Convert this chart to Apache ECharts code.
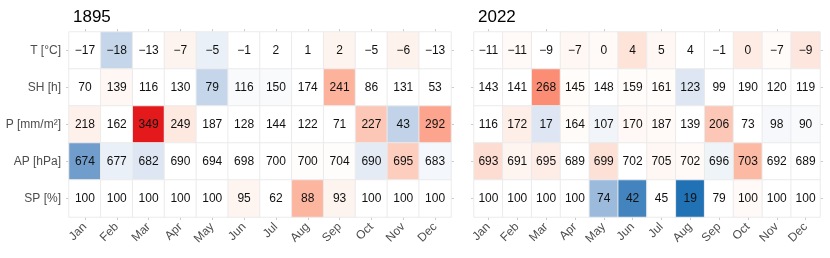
<!DOCTYPE html>
<html><head><meta charset="utf-8">
<script src="https://cdn.jsdelivr.net/npm/echarts@6/dist/echarts.min.js"></script>
<style>html,body{margin:0;padding:0;background:#fff}#c{width:830px;height:258px}</style>
</head><body><div id="c"></div>
<script>
const months = ['Jan','Feb','Mar','Apr','May','Jun','Jul','Aug','Sep','Oct','Nov','Dec'];
const variables = ['T [°C]','SH [h]','P [mm/m²]','AP [hPa]','SP [%]'];
const titles = ['1895','2022'];

// values 1895
const t1895  = [-17,-18,-13,-7,-5,-1,2,1,2,-5,-6,-13];
const sh1895 = [70,139,116,130,79,116,150,174,241,86,131,53];
const p1895  = [218,162,349,249,187,128,144,122,71,227,43,292];
const ap1895 = [674,677,682,690,694,698,700,700,704,690,695,683];
const sp1895 = [100,100,100,100,100,95,62,88,93,100,100,100];
// values 2022
const t2022  = [-11,-11,-9,-7,0,4,5,4,-1,0,-7,-9];
const sh2022 = [143,141,268,145,148,159,161,123,99,190,120,119];
const p2022  = [116,172,17,164,107,170,187,139,206,73,98,90];
const ap2022 = [693,691,695,689,699,702,705,702,696,703,692,689];
const sp2022 = [100,100,100,100,74,42,45,19,79,100,100,100];

// cell shading (anomaly, -1 blue .. +1 red)
const tShade1895  = [0,-0.25,0,0.1,-0.09,0,0,0,0.1,0,0.12,0];
const shShade1895 = [0,0.07,0,0,-0.25,-0.03,-0.03,0,0.52,0,0,0];
const pShade1895  = [0.13,0,1,0.2,0,0,0,0,0,0.4,-0.27,0.6];
const apShade1895 = [-0.65,-0.09,-0.15,0,0,0,0,0.02,0.02,-0.12,0.37,-0.05];
const spShade1895 = [0,0,0,0,0,0.09,0,0.5,0.1,0,0,0];
const tShade2022  = [0,0.05,0,0.07,0.05,0.25,0.07,0,0,0.17,0.04,0.22];
const shShade2022 = [0,0,0.73,0.03,0,0.03,0.03,-0.15,0,0,0,0];
const pShade2022  = [0,0.15,-0.15,0.04,-0.06,0.06,0.05,0,0.4,0,-0.04,-0.03];
const apShade2022 = [0.28,0.09,0.16,0,0.26,0,0.07,0.05,-0.07,0.48,0,0];
const spShade2022 = [0,0,0,0,-0.45,-0.85,0,-1,0,0.05,0,0];

const panels = [
  {vals:[t1895,sh1895,p1895,ap1895,sp1895], shade:[tShade1895,shShade1895,pShade1895,apShade1895,spShade1895]},
  {vals:[t2022,sh2022,p2022,ap2022,sp2022], shade:[tShade2022,shShade2022,pShade2022,apShade2022,spShade2022]}
];

function build(p){
  const d=[];
  p.vals.forEach((row,r)=>row.forEach((v,c)=>d.push([c,r,v,p.shade[r][c]])));
  return d;
}
const font='Liberation Sans';
const grids=[{left:69,top:32,width:382,height:185},{left:474,top:32,width:346,height:185}];
const tick={show:true,alignWithLabel:true,length:3,lineStyle:{color:'#cccccc'}};
const xAxes=[],yAxes=[],series=[],titleOpts=[];
grids.forEach((g,i)=>{
  xAxes.push({type:'category',gridIndex:i,data:months,position:'bottom',axisLine:{show:false},axisTick:tick,
    axisLabel:{rotate:45,color:'#4d4d4d',fontSize:12,margin:8,fontFamily:font},splitLine:{show:false}});
  xAxes.push({type:'category',gridIndex:i,data:months,position:'top',axisLine:{show:false},axisTick:tick,
    axisLabel:{show:false},splitLine:{show:false}});
  yAxes.push({type:'category',gridIndex:i,data:variables,inverse:true,position:'left',axisLine:{show:false},axisTick:tick,
    axisLabel:{show:i===0,color:'#4d4d4d',fontSize:12,margin:8,fontFamily:font},splitLine:{show:false}});
  yAxes.push({type:'category',gridIndex:i,data:variables,inverse:true,position:'right',axisLine:{show:false},axisTick:tick,
    axisLabel:{show:false},splitLine:{show:false}});
  series.push({type:'heatmap',xAxisIndex:i*2,yAxisIndex:i*2,data:build(panels[i]),
    itemStyle:{borderColor:'#ebebeb',borderWidth:1},
    label:{show:true,color:'#111',fontSize:12,fontFamily:font,
      formatter:p=>{const v=p.data[2];return v<0?'\u2212'+Math.abs(v):String(v);}},
    emphasis:{disabled:true}});
  titleOpts.push({text:titles[i],left:g.left-1,top:4,textStyle:{fontSize:17,fontWeight:'normal',color:'#000',fontFamily:font}});
});
const chart=echarts.init(document.getElementById('c'),null,{renderer:'canvas'});
chart.setOption({
  animation:false,
  title:titleOpts,
  grid:grids,
  xAxis:xAxes,yAxis:yAxes,
  visualMap:{show:false,type:'continuous',min:-1,max:1,dimension:3,seriesIndex:[0,1],
    inRange:{color:['#2171b5','#5a8fc4','#90b3d8','#c6d6ea','#ffffff','#fde3d8','#fcb59f','#fb8a71','#e3191c']}},
  series:series
});
</script></body></html>
